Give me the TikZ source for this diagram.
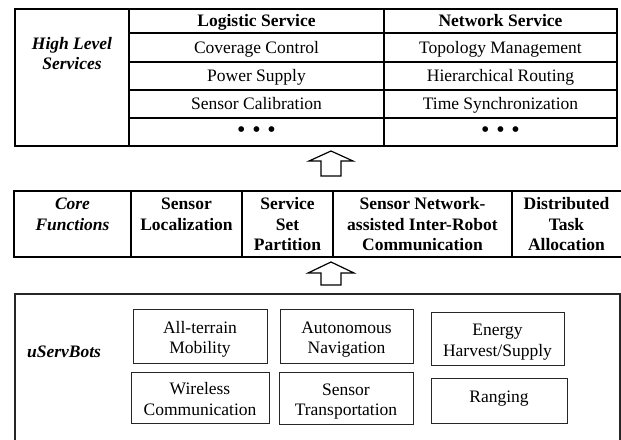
\documentclass[tikz,border=0pt]{standalone}
\usepackage{fontspec}
\setmainfont{Liberation Serif}
\newcommand\tfont{\fontsize{17.5}{20.5}\selectfont}
\newcommand\myTop{\rule{0pt}{18.5pt}}
\newcommand\myBot{\rule[-4pt]{0pt}{4pt}}
\begin{document}
\begin{tikzpicture}[x=1pt,y=-1pt,
  tx/.style={inner sep=0pt,align=center,font=\tfont},
  ml/.style={tx,anchor=north},
  sl/.style={tx,anchor=base},
  dots/.style={inner sep=0pt,anchor=center,font=\fontsize{24}{24}\selectfont},
  outerline/.style={line width=2.8pt},
  innerline/.style={line width=2.2pt},
  coreline/.style={line width=2.6pt},
  botline/.style={line width=2pt,draw=black!85},
  fbox/.style={draw=black!85,line width=1pt,inner sep=0pt,align=center,font=\tfont},
  arrowline/.style={line width=1.2pt,line join=miter}]
\useasboundingbox (0,0) rectangle (621,439);
\clip (0,0) rectangle (621,439);
% ---------- High level services table
\draw[innerline] (129,9) -- (129,146) (384,9) -- (384,146)
  (129,33) -- (617,33) (129,62) -- (617,62) (129,90) -- (617,90) (129,118) -- (617,118);
\draw[outerline] (15,9) rectangle (617,146);
\node[ml,font=\tfont\bfseries\itshape] (hls) at (72,34.65) {\strut High Level\\Services};
\node[sl,font=\tfont\bfseries] (ls) at (256.5,26.8) {Logistic Service};
\node[sl,font=\tfont\bfseries] (ns) at (500.5,26.8) {Network Service};
\node[sl] (cc) at (256.5,53.3) {Coverage Control};
\node[sl] (tm) at (500.5,53.3) {Topology Management};
\node[sl] (ps) at (256.5,81.8) {Power Supply};
\node[sl] (hr) at (500.5,81.8) {Hierarchical Routing};
\node[sl] (sc) at (256.5,109.8) {Sensor Calibration};
\node[sl] (ts) at (500.5,109.8) {Time Synchronization};
\node[dots] (d1) at (256.5,132) {\textbullet\hspace{6.8pt}\textbullet\hspace{6.8pt}\textbullet};
\node[dots] (d2) at (500.5,132) {\textbullet\hspace{6.8pt}\textbullet\hspace{6.8pt}\textbullet};
% ---------- arrow 1
\coordinate (ar1) at (331,151);
\draw[arrowline] (ar1) -- ++(22,10) -- ++(-12,0) -- ++(0,15) -- ++(-20,0) -- ++(0,-15) -- ++(-12,0) -- cycle;
% ---------- Core functions table
\draw[coreline] (14,191) rectangle (624,257)
  (131,191) -- (131,257) (242,191) -- (242,257) (333,191) -- (333,257) (512,191) -- (512,257);
\node[ml,font=\tfont\bfseries\itshape] (cf) at (72.5,195.15) {\strut Core\\Functions};
\node[ml,font=\tfont\bfseries] (sl) at (186.5,195.15) {\strut Sensor\\Localization};
\node[ml,font=\tfont\bfseries] (ssp) at (287.5,195.15) {\strut Service\\Set\\Partition};
\node[ml,font=\tfont\bfseries] (snc) at (422.5,195.15) {\strut Sensor Network-\\assisted Inter-Robot\\Communication};
\node[ml,font=\tfont\bfseries] (dta) at (566.5,195.15) {\strut Distributed\\Task\\Allocation};
% ---------- arrow 2
\coordinate (ar2) at (331,262);
\draw[arrowline] (ar2) -- ++(23,11) -- ++(-13,0) -- ++(0,12) -- ++(-20,0) -- ++(0,-12) -- ++(-13,0) -- cycle;
% ---------- uServBots
\draw[botline] (15,294) rectangle (619.5,470);
\node[sl,font=\tfont\bfseries\itshape] (usb) at (64,357) {uServBots};
\node[fbox,minimum width=134pt,minimum height=54pt] (atm) at (200,336) {\myTop All-terrain\\Mobility\myBot};
\node[fbox,minimum width=133pt,minimum height=54pt] (an) at (346.5,336) {\myTop Autonomous\\Navigation\myBot};
\node[fbox,minimum width=133pt,minimum height=53pt] (eh) at (497.5,338.5) {\myTop Energy\\Harvest/Supply\myBot};
\node[fbox,minimum width=138pt,minimum height=51pt] (wc) at (200,397.5) {\myTop Wireless\\Communication\myBot};
\node[fbox,minimum width=134pt,minimum height=52pt] (st) at (346,398) {\myTop Sensor\\Transportation\myBot};
\node[fbox,minimum width=136pt,minimum height=45pt] (rg) at (499,400.5) {\rule[-9pt]{0pt}{21pt}Ranging};
\end{tikzpicture}
\end{document}
